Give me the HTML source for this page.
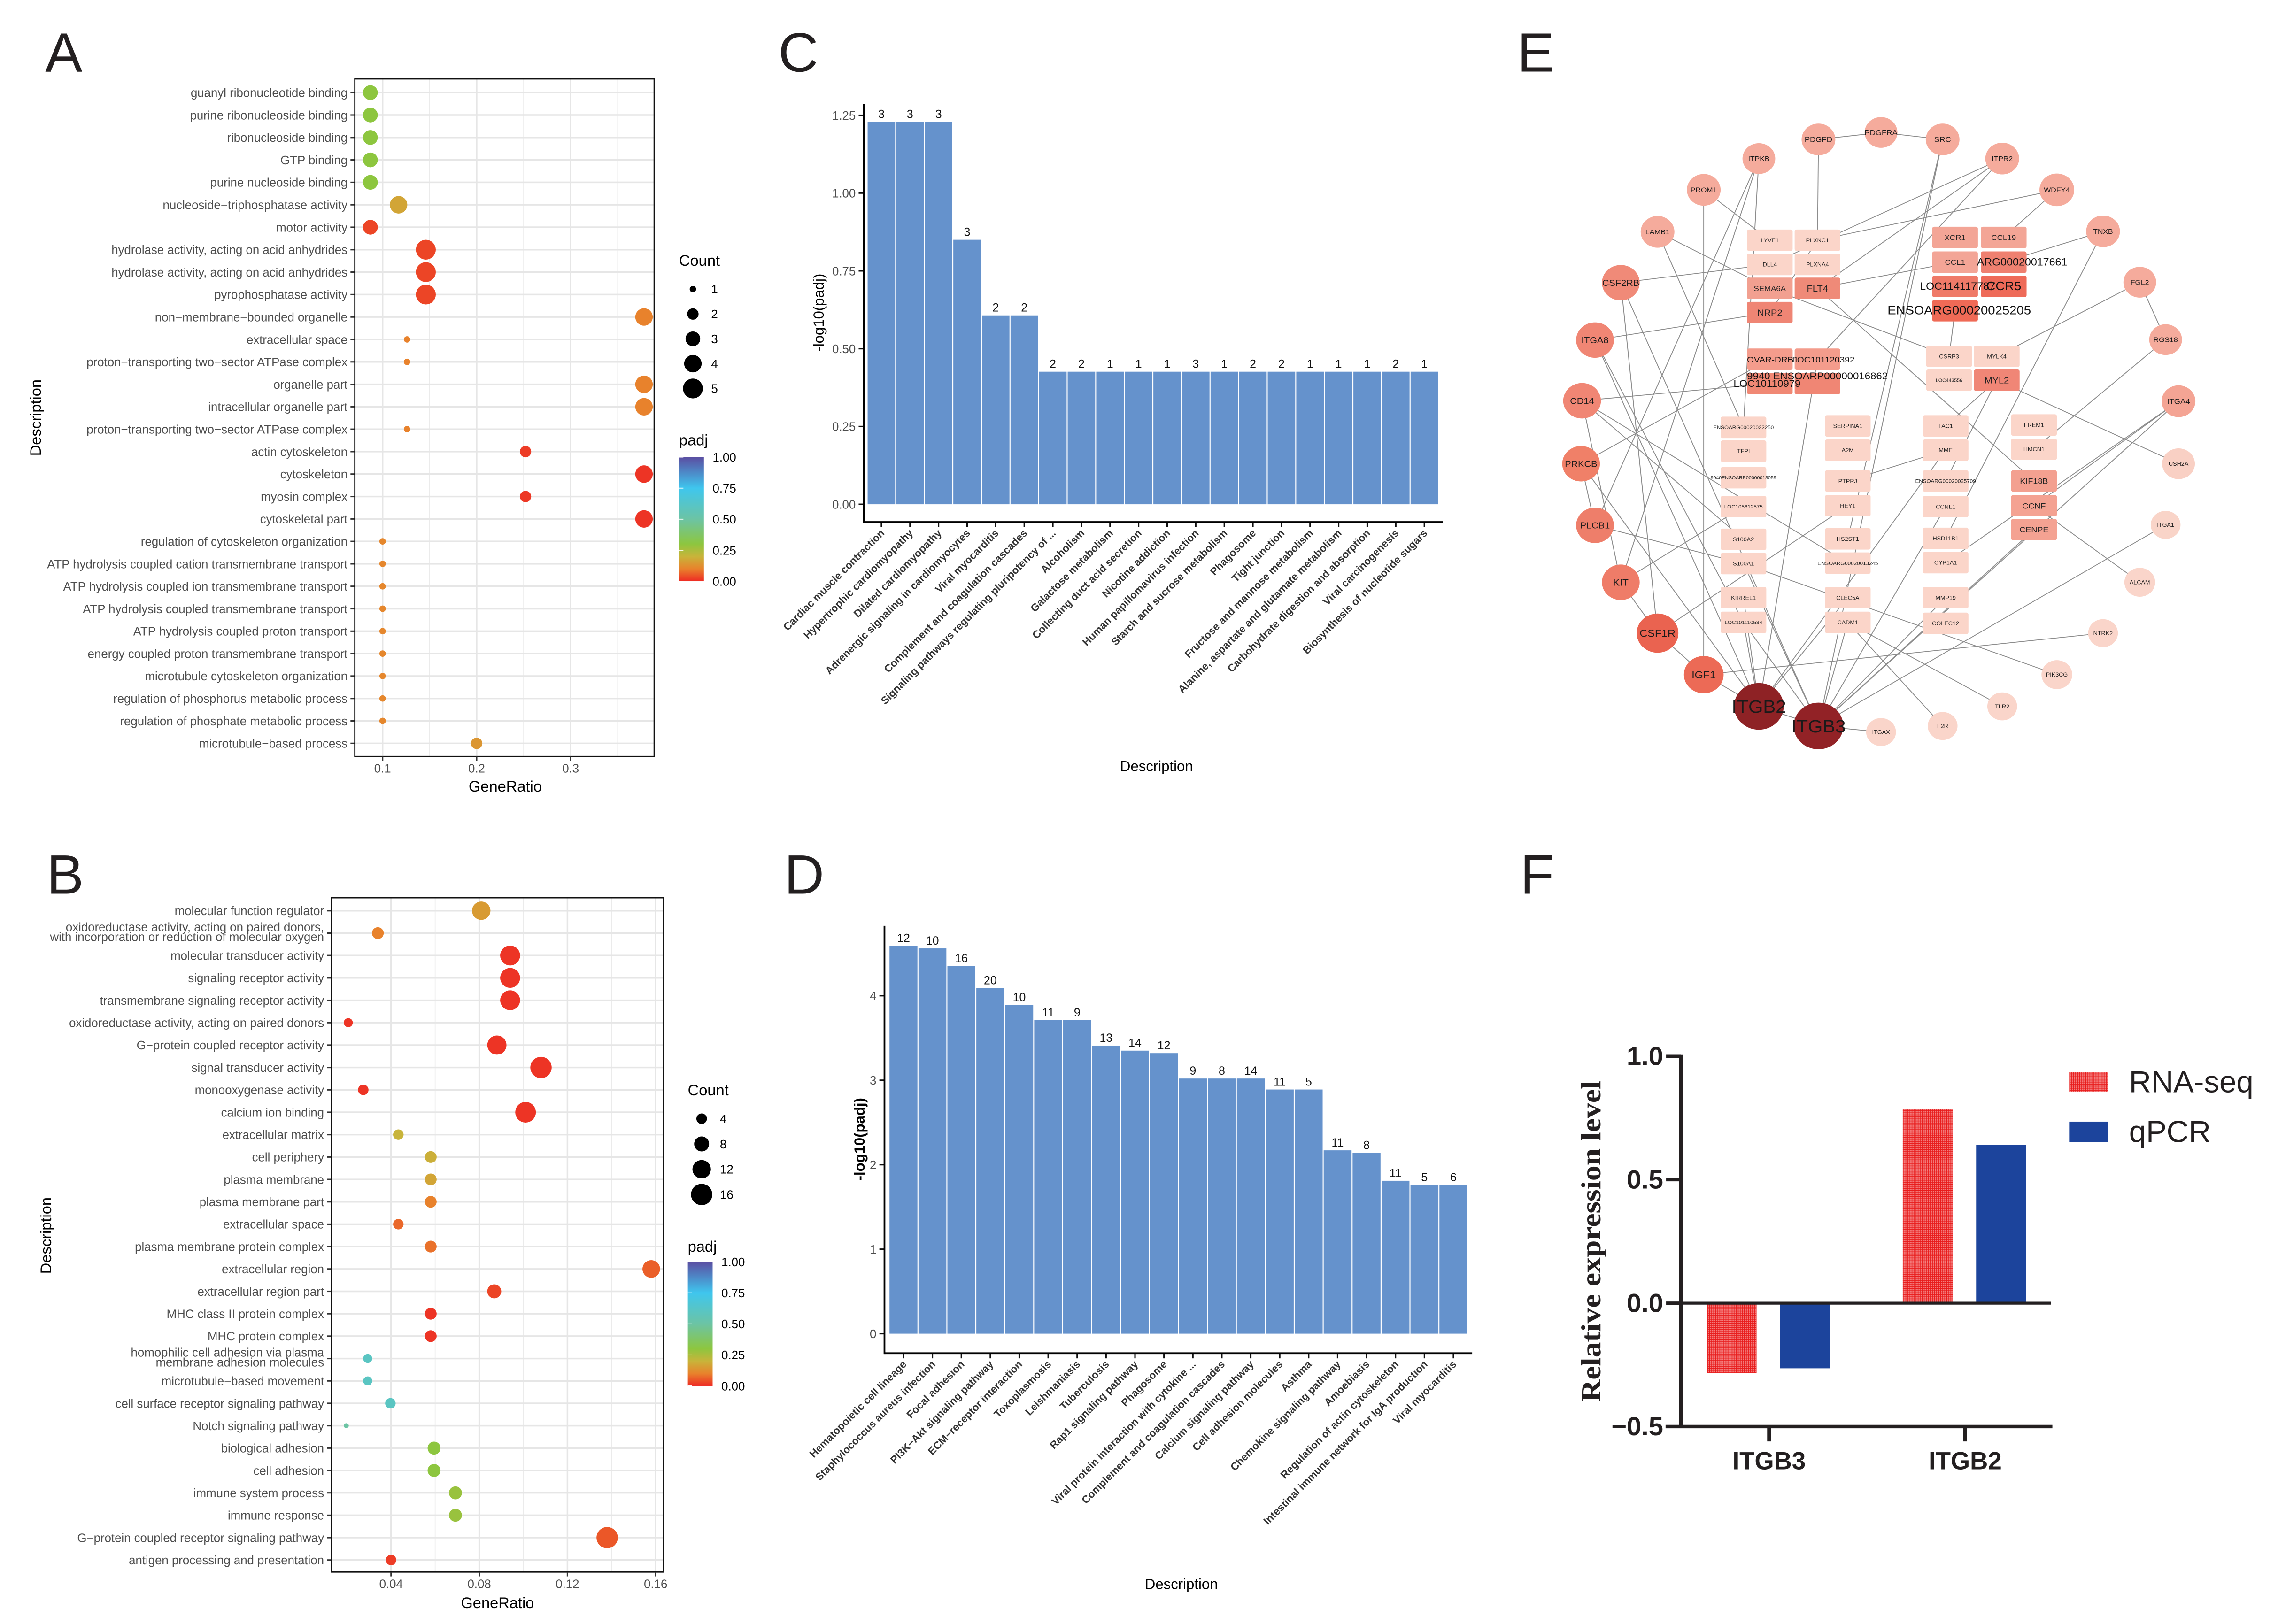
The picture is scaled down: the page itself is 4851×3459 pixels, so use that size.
<!DOCTYPE html>
<html><head><meta charset="utf-8"><title>Enrichment figure</title>
<style>
html,body{margin:0;padding:0;background:#fff;}
svg{display:block;font-family:"Liberation Sans",Arial,sans-serif;}
</style></head>
<body>
<svg id="fig" xmlns="http://www.w3.org/2000/svg" width="4851" height="3459" viewBox="0 0 1560 1112" preserveAspectRatio="none">
<defs>
<linearGradient id="padjGrad" x1="0" y1="1" x2="0" y2="0">
<stop offset="0" stop-color="#ee2b24"/><stop offset="0.1" stop-color="#e8822c"/><stop offset="0.2" stop-color="#c8b43a"/><stop offset="0.3" stop-color="#8dc63f"/><stop offset="0.5" stop-color="#6cc4a4"/><stop offset="0.75" stop-color="#3fc6ee"/><stop offset="1" stop-color="#5b4ea2"/>
</linearGradient>
<pattern id="hatch" width="1.4" height="1.4" patternUnits="userSpaceOnUse"><rect width="1.4" height="1.4" fill="#f48080"/><path d="M0 0.35H1.4M0.35 0V1.4" stroke="#e81c1c" stroke-width="0.5"/></pattern>
</defs>
<rect x="0" y="0" width="1560" height="1112" fill="#fff"/>
<g font-size="38" fill="#231f20">
<text x="31" y="49">A</text>
<text x="533" y="49">C</text>
<text x="1039" y="49">E</text>
<text x="32" y="612">B</text>
<text x="537" y="612">D</text>
<text x="1041" y="612">F</text>
</g>
<g id="pA"></g>
<g id="pB"></g>
<g id="pC"></g>
<g id="pD"></g>
<g id="pE" transform="translate(1029,48.2) scale(0.3401,0.3195)"></g>
<g id="pF"></g>
</svg>
<script>
// ---------- Panel A data ----------
const descA = ["guanyl ribonucleotide binding","purine ribonucleoside binding","ribonucleoside binding","GTP binding","purine nucleoside binding","nucleoside\u2212triphosphatase activity","motor activity","hydrolase activity, acting on acid anhydrides","hydrolase activity, acting on acid anhydrides","pyrophosphatase activity","non\u2212membrane\u2212bounded organelle","extracellular space","proton\u2212transporting two\u2212sector ATPase complex","organelle part","intracellular organelle part","proton\u2212transporting two\u2212sector ATPase complex","actin cytoskeleton","cytoskeleton","myosin complex","cytoskeletal part","regulation of cytoskeleton organization","ATP hydrolysis coupled cation transmembrane transport","ATP hydrolysis coupled ion transmembrane transport","ATP hydrolysis coupled transmembrane transport","ATP hydrolysis coupled proton transport","energy coupled proton transmembrane transport","microtubule cytoskeleton organization","regulation of phosphorus metabolic process","regulation of phosphate metabolic process","microtubule\u2212based process"];
const ratioA = [0.087,0.087,0.087,0.087,0.087,0.117,0.087,0.146,0.146,0.146,0.378,0.126,0.126,0.378,0.378,0.126,0.252,0.378,0.252,0.378,0.1,0.1,0.1,0.1,0.1,0.1,0.1,0.1,0.1,0.2];
const countA = [3,3,3,3,3,4,3,5,5,5,4,1,1,4,4,1,2,4,2,4,1,1,1,1,1,1,1,1,1,2];
const padjA = [0.3,0.3,0.3,0.3,0.3,0.17,0.03,0.03,0.03,0.03,0.1,0.1,0.1,0.1,0.1,0.1,0.02,0.01,0.015,0.01,0.11,0.11,0.11,0.11,0.11,0.11,0.11,0.11,0.11,0.14];
const ticksA = [0.1,0.2,0.3];
const legCountA = [1,2,3,4,5];
// ---------- Panel B data ----------
const descB = ["molecular function regulator","oxidoreductase activity, acting on paired donors,\nwith incorporation or reduction of molecular oxygen","molecular transducer activity","signaling receptor activity","transmembrane signaling receptor activity","oxidoreductase activity, acting on paired donors","G\u2212protein coupled receptor activity","signal transducer activity","monooxygenase activity","calcium ion binding","extracellular matrix","cell periphery","plasma membrane","plasma membrane part","extracellular space","plasma membrane protein complex","extracellular region","extracellular region part","MHC class II protein complex","MHC protein complex","homophilic cell adhesion via plasma\nmembrane adhesion molecules","microtubule\u2212based movement","cell surface receptor signaling pathway","Notch signaling pathway","biological adhesion","cell adhesion","immune system process","immune response","G\u2212protein coupled receptor signaling pathway","antigen processing and presentation"];
const ratioB = [0.0809,0.034,0.094,0.094,0.094,0.0206,0.088,0.108,0.0274,0.101,0.0433,0.058,0.058,0.058,0.0433,0.058,0.158,0.0868,0.058,0.058,0.0294,0.0294,0.0397,0.0197,0.0595,0.0595,0.0692,0.0692,0.138,0.04];
const countB = [12,5,14,14,14,3,13,16,4,15,4,5,5,5,4,5,11,7,5,5,3,3,4,1,6,6,6,6,16,4];
const padjB = [0.15,0.1,0.01,0.01,0.01,0.01,0.01,0.01,0.01,0.01,0.2,0.19,0.17,0.1,0.07,0.08,0.06,0.03,0.01,0.01,0.6,0.6,0.6,0.5,0.3,0.3,0.28,0.28,0.05,0.02];
const ticksB = [0.04,0.08,0.12,0.16];
const legCountB = [4,8,12,16];
// ---------- Panel C data ----------
const catC = ["Cardiac muscle contraction","Hypertrophic cardiomyopathy","Dilated cardiomyopathy","Adrenergic signaling in cardiomyocytes","Viral myocarditis","Complement and coagulation cascades","Signaling pathways regulating pluripotency of ...","Alcoholism","Galactose metabolism","Collecting duct acid secretion","Nicotine addiction","Human papillomavirus infection","Starch and sucrose metabolism","Phagosome","Tight junction","Fructose and mannose metabolism","Alanine, aspartate and glutamate metabolism","Carbohydrate digestion and absorption","Viral carcinogenesis","Biosynthesis of nucleotide sugars"];
const valC = [1.229,1.229,1.229,0.85,0.607,0.607,0.426,0.426,0.426,0.426,0.426,0.426,0.426,0.426,0.426,0.426,0.426,0.426,0.426,0.426];
const cntC = [3,3,3,3,2,2,2,2,1,1,1,3,1,2,2,1,1,1,2,1];
const ticksC = [0,0.25,0.5,0.75,1.0,1.25];
// ---------- Panel D data ----------
const catD = ["Hematopoietic cell lineage","Staphylococcus aureus infection","Focal adhesion","PI3K\u2212Akt signaling pathway","ECM\u2212receptor interaction","Toxoplasmosis","Leishmaniasis","Tuberculosis","Rap1 signaling pathway","Phagosome","Viral protein interaction with cytokine ...","Complement and coagulation cascades","Calcium signaling pathway","Cell adhesion molecules","Asthma","Chemokine signaling pathway","Amoebiasis","Regulation of actin cytoskeleton","Intestinal immune network for IgA production","Viral myocarditis"];
const valD = [4.59,4.56,4.35,4.09,3.89,3.71,3.71,3.41,3.35,3.32,3.02,3.02,3.02,2.89,2.89,2.17,2.14,1.81,1.76,1.76];
const cntD = [12,10,16,20,10,11,9,13,14,12,9,8,14,11,5,11,8,11,5,6];
const ticksD = [0,1,2,3,4];
// ---------- Panel F data ----------
const genesF = ["ITGB3","ITGB2"];
const rnaF = [-0.284,0.785];
const qpcrF = [-0.264,0.642];
const ticksF = [-0.5,0.0,0.5,1.0];

const NS='http://www.w3.org/2000/svg';
function mk(parent, tag, attrs, text){
  const e=document.createElementNS(NS,tag);
  for(const k in attrs) e.setAttribute(k,attrs[k]);
  if(text!=null) e.textContent=text;
  parent.appendChild(e);
  return e;
}
const stops=[[0,[238,43,36]],[0.1,[232,130,44]],[0.2,[200,180,58]],[0.3,[141,198,63]],[0.5,[108,196,164]],[0.75,[63,198,238]],[1,[91,78,162]]];
function padjColor(p){
  for(let i=1;i<stops.length;i++){
    if(p<=stops[i][0]){const a=stops[i-1],b=stops[i];const t=(p-a[0])/(b[0]-a[0]);
      const c=a[1].map((v,j)=>Math.round(v+(b[1][j]-v)*t));return 'rgb('+c.join(',')+')';}
  }
  return 'rgb(91,78,162)';
}

function dotPlot(g, o){
  const n=o.desc.length;
  const yS=i=>o.yTop+i*(o.yBot-o.yTop)/(n-1);
  const xS=v=>o.x0+v*o.xs;
  let el;
  for(const m of o.minor){
    el=mk(g,'line',{x1:xS(m),x2:xS(m),y1:o.bT,y2:o.bB,stroke:'#ebebeb','stroke-width':0.55});
    
    
  }
  for(const t of o.ticks){
    el=mk(g,'line',{x1:xS(t),x2:xS(t),y1:o.bT,y2:o.bB,stroke:'#e6e6e6','stroke-width':1.1});
    
    
  }
  for(let i=0;i<n;i++){
    el=mk(g,'line',{x1:o.bL,x2:o.bR,y1:yS(i),y2:yS(i),stroke:'#e6e6e6','stroke-width':1.1});
    
    
  }
  for(let i=0;i<n;i++){
    const lines=o.desc[i].split('\n');
    el=mk(g,'text',{x:o.bL-5,y:yS(i)+3,'text-anchor':'end','font-size':8.3,fill:'#4d4d4d'});
    
    
    if(lines.length===1){el.textContent=lines[0];}
    else{
      el.setAttribute('y',yS(i)-0.5);
      const t1=mk(el,'tspan',{x:o.bL-5,dy:-0.8},lines[0]);
      
      
      const t2=mk(el,'tspan',{x:o.bL-5,dy:6.8},lines[1]);
      
      
    }
    el=mk(g,'line',{x1:o.bL-3,x2:o.bL,y1:yS(i),y2:yS(i),stroke:'#333','stroke-width':1});
    
    
  }
  for(let i=0;i<n;i++){
    el=mk(g,'circle',{cx:xS(o.ratio[i]),cy:yS(i),r:o.rf(o.count[i]),fill:padjColor(o.padj[i])});
    
    
  }
  el=mk(g,'rect',{x:o.bL,y:o.bT,width:o.bR-o.bL,height:o.bB-o.bT,fill:'none',stroke:'#111','stroke-width':0.9});
  
  
  for(const t of o.ticks){
    el=mk(g,'line',{x1:xS(t),x2:xS(t),y1:o.bB,y2:o.bB+3,stroke:'#333','stroke-width':1});
    
    
    el=mk(g,'text',{x:xS(t),y:o.bB+11,'text-anchor':'middle','font-size':8.3,fill:'#4d4d4d'},String(t));
    
    
  }
  el=mk(g,'text',{x:o.xtx,y:o.xty,'text-anchor':'middle','font-size':10.5,fill:'#000'},'GeneRatio');
  
  
  el=mk(g,'text',{x:0,y:0,'text-anchor':'middle','font-size':10.5,fill:'#000',transform:'translate('+o.ytx+','+o.yty+') rotate(-90)'},'Description');
  
  
  el=mk(g,'text',{x:o.lx,y:o.lcY,'font-size':10.5,fill:'#000'},'Count');
  
  
  o.legC.forEach((c,k)=>{
    const yy=o.lc0+k*o.lcd;
    let e=mk(g,'circle',{cx:o.lx+9.5,cy:yy,r:o.rf(c),fill:'#000'});
    
    
    e=mk(g,'text',{x:o.lx+22,y:yy+3,'font-size':8.3,fill:'#000'},String(c));
    
    
  });
  el=mk(g,'text',{x:o.lx,y:o.pY,'font-size':10.5,fill:'#000'},'padj');
  
  
  el=mk(g,'rect',{x:o.lx,y:o.cbT,width:17,height:o.cbB-o.cbT,fill:'url(#padjGrad)'});
  
  
  ['1.00','0.75','0.50','0.25','0.00'].forEach((s,k)=>{
    const yy=o.cbT+k*(o.cbB-o.cbT)/4;
    let e=mk(g,'text',{x:o.lx+23,y:yy+3,'font-size':8.3,fill:'#000'},s);
    
    
    e=mk(g,'line',{x1:o.lx,x2:o.lx+3,y1:yy,y2:yy,stroke:'#fff','stroke-width':0.6});
    
    
  });
}
dotPlot(document.getElementById('pA'),{desc:descA,ratio:ratioA,count:countA,padj:padjA,ticks:ticksA,minor:[0.15,0.25,0.35],
  yTop:63.4,yBot:509,x0:197.6,xs:644,bL:243,bR:448,bT:54,bB:518,
  rf:c=>Math.sqrt(2.2*2.2+(c-1)/4*(6.8*6.8-2.2*2.2)),
  xtx:346,xty:542,ytx:28,yty:286,lx:465,lcY:182,lc0:198,lcd:17,legC:legCountA,pY:305,cbT:313,cbB:398});
dotPlot(document.getElementById('pB'),{desc:descB,ratio:ratioB,count:countB,padj:padjB,ticks:ticksB,minor:[0.02,0.06,0.10,0.14],
  yTop:623.6,yBot:1068.2,x0:207.4,xs:1510,bL:226.9,bR:454.5,bT:614.7,bB:1076.4,
  rf:c=>Math.sqrt(1.7*1.7+(c-1)/15*(7.3*7.3-1.7*1.7)),
  xtx:340.7,xty:1101,ytx:35,yty:846,lx:471,lcY:750,lc0:766,lcd:17.3,legC:legCountB,pY:857,cbT:864,cbB:949});

function barChart(g,o){
  const n=o.cat.length, bw=(o.xR-o.xL)/n;
  const yS=v=>o.y0-v*o.ys;
  let el;
  for(let i=0;i<n;i++){
    const x=o.xL+i*bw;
    el=mk(g,'rect',{x:x+0.35,y:yS(o.val[i]),width:bw-0.7,height:yS(0)-yS(o.val[i]),fill:'#6592cc'});
    
    
    el=mk(g,'text',{x:x+bw/2,y:yS(o.val[i])-2.6,'text-anchor':'middle','font-size':8,fill:'#111'},String(o.cnt[i]));
    
    
    el=mk(g,'line',{x1:x+bw/2,x2:x+bw/2,y1:o.axY,y2:o.axY+3.5,stroke:'#111','stroke-width':1});
    
    
    el=mk(g,'text',{x:0,y:0,'text-anchor':'end','font-size':7.2,fill:'#333','font-weight':'bold',transform:'translate('+(x+bw/2+2.5)+','+(o.axY+8)+') rotate(-45)'},o.cat[i]);
    
    
  }
  for(const t of o.ticks){
    el=mk(g,'line',{x1:o.axX-3.5,x2:o.axX,y1:yS(t),y2:yS(t),stroke:'#111','stroke-width':1});
    
    
    el=mk(g,'text',{x:o.axX-5.5,y:yS(t)+3,'text-anchor':'end','font-size':8.3,fill:'#4d4d4d'},o.fmt(t));
    
    
  }
  el=mk(g,'line',{x1:o.axX,x2:o.axX,y1:o.axTop,y2:o.axY+0.6,stroke:'#000','stroke-width':1.2});
  
  
  el=mk(g,'line',{x1:o.axX,x2:o.axRight,y1:o.axY,y2:o.axY,stroke:'#000','stroke-width':1.2});
  
  
  el=mk(g,'text',{x:o.xtx,y:o.xty,'text-anchor':'middle','font-size':10,fill:'#000'},'Description');
  
  
  el=mk(g,'text',{x:0,y:0,'text-anchor':'middle','font-size':10,fill:'#000','font-weight':o.yBold?'bold':'normal',transform:'translate('+o.ytx+','+o.yty+') rotate(-90)'},'-log10(padj)');
  
  
}
barChart(document.getElementById('pC'),{cat:catC,val:valC,cnt:cntC,ticks:ticksC,fmt:t=>t.toFixed(2),
  xL:593.8,xR:985.2,y0:345.3,ys:213.1,axX:591.5,axY:357.5,axTop:71.2,axRight:988,xtx:792,xty:528,ytx:564,yty:214,yBold:false});
barChart(document.getElementById('pD'),{cat:catD,val:valD,cnt:cntD,ticks:ticksD,fmt:t=>String(t),
  xL:608.8,xR:1005.2,y0:913.2,ys:57.85,axX:605.7,axY:926.6,axTop:633.9,axRight:1008.2,xtx:809,xty:1088,ytx:592,yty:780,yBold:true});

const circNodes=[
["PDGFRA",762,133,33,"#f5ab9c",16],["PDGFD",636,148,34,"#f5ab9c",16],["SRC",886,148,34,"#f5ab9c",16],["ITPKB",516,189,33,"#f5ab9c",15],
["ITPR2",1006,189,34,"#f5ab9c",15],["PROM1",405,256,34,"#f5ab9c",15],["WDFY4",1116,256,35,"#f5ab9c",15],["LAMB1",312,346,34,"#f5ab9c",15],
["TNXB",1209,345,34,"#f5ab9c",15],["CSF2RB",238,455,38,"#f08a78",19],["FGL2",1283,454,33,"#f5ab9c",15],["ITGA8",186,578,38,"#f08674",19],
["RGS18",1335,577,33,"#f5ab9c",15],["CD14",160,708,38,"#f08674",19],["ITGA4",1361,709,34,"#f4a494",16],["USH2A",1361,843,33,"#f9d0c4",12],
["PRKCB",158,843,38,"#f08068",19],["PLCB1",186,975,38,"#ee7e6a",19],["ITGA1",1335,974,30,"#f9d4c8",12],["KIT",238,1097,38,"#ef7c68",20],
["ALCAM",1283,1097,31,"#fad5ca",12],["CSF1R",312,1206,42,"#ea6350",22],["NTRK2",1209,1206,30,"#fad5ca",12],["IGF1",405,1295,40,"#ec6a56",22],
["PIK3CG",1116,1295,31,"#fad5ca",12],["ITGB2",516,1363,50,"#8e2225",38],["TLR2",1006,1363,30,"#fad5ca",12],["ITGB3",636,1405,50,"#922226",38],
["F2R",886,1405,30,"#fad5ca",12],["ITGAX",762,1418,30,"#fad5ca",12]];
const rectNodes=[
["LYVE1",538,364,"#fbd5c9","LYVE1",12],["PLXNC1",634,364,"#fbd5c9","PLXNC1",12],["DLL4",538,416,"#fbd5c9","DLL4",12],["PLXNA4",634,416,"#fbd5c9","PLXNA4",12],
["SEMA6A",538,467,"#f2a090","SEMA6A",16],["FLT4",634,467,"#ef8a78","FLT4",19],["NRP2",538,519,"#ef8574","NRP2",19],
["XCR1",911,358,"#f3a596","XCR1",16],["CCL19",1009,358,"#f3a596","CCL19",16],["CCL1",911,411,"#f3a596","CCL1",16],["ARG17661",1009,411,"#ef8070","",16],
["LOC114117787",911,463,"#ef7a68","",19],["CCR5",1009,463,"#ee6a58","",22],["ENSOARG00020025205",911,515,"#ef6a56","",22],
["OVAR-DRB1",538,619,"#f49c8c","",16],["LOC101120392",634,619,"#f49c8c","",16],["LOC10110979",538,671,"#f08874","",16],["ENSOARP16862",634,671,"#f08674","",16],
["CSRP3",899,613,"#fbd5c9","CSRP3",12],["MYLK4",995,613,"#fbd5c9","MYLK4",12],["LOC443556",899,664,"#fbd5c9","LOC443556",10],["MYL2",995,664,"#f08676","MYL2",19],
["ENSOARG00020022250",485,765,"#fbd5c9","ENSOARG00020022250",11],["TFPI",485,816,"#fbd5c9","TFPI",12],["ENSOARP13059",485,873,"#fbd5c9","9940ENSOARP00000013059",10],
["LOC105612575",485,935,"#fbd5c9","LOC105612575",11],["S100A2",485,1005,"#fbd5c9","S100A2",12],["S100A1",485,1057,"#fbd5c9","S100A1",12],
["KIRREL1",485,1130,"#fbd5c9","KIRREL1",12],["LOC101110534",485,1183,"#fbd5c9","LOC101110534",11],
["SERPINA1",695,762,"#fbd5c9","SERPINA1",12],["A2M",695,814,"#fbd5c9","A2M",12],["PTPRJ",695,880,"#fbd5c9","PTPRJ",12],["HEY1",695,933,"#fbd5c9","HEY1",12],
["HS2ST1",695,1004,"#fbd5c9","HS2ST1",12],["ENSOARG00020013245",695,1056,"#fbd5c9","ENSOARG00020013245",11],["CLEC5A",695,1130,"#fbd5c9","CLEC5A",12],["CADM1",695,1183,"#fbd5c9","CADM1",12],
["TAC1",892,762,"#fbd5c9","TAC1",12],["MME",892,814,"#fbd5c9","MME",12],["ENSOARG00020025709",892,880,"#fbd5c9","ENSOARG00020025709",11],["CCNL1",892,935,"#fbd5c9","CCNL1",12],
["HSD11B1",892,1003,"#fbd5c9","HSD11B1",12],["CYP1A1",892,1055,"#fbd5c9","CYP1A1",12],["MMP19",892,1130,"#fbd5c9","MMP19",12],["COLEC12",892,1185,"#fbd5c9","COLEC12",12],
["FREM1",1070,760,"#fbd5c9","FREM1",12],["HMCN1",1070,812,"#fbd5c9","HMCN1",12],["KIF18B",1070,880,"#f3a090","KIF18B",17],["CCNF",1070,933,"#f4a292","CCNF",17],["CENPE",1070,984,"#f4a292","CENPE",17]];
const edgesE=[["PDGFD","PDGFRA"],["PDGFRA","SRC"],["PDGFD","PLXNC1"],["ITPKB","ENSOARG00020022250"],["ITPKB","KIT"],["ITPKB","PLCB1"],
["PROM1","LYVE1"],["PROM1","IGF1"],["SRC","HS2ST1"],["ITPR2","FLT4"],["ITPR2","LOC101120392"],["ITPR2","DLL4"],["WDFY4","PLXNC1"],["WDFY4","CCL19"],
["TNXB","ARG17661"],["TNXB","HSD11B1"],["FGL2","RGS18"],["FGL2","MYLK4"],["RGS18","HMCN1"],["ITGA4","CCNF"],["ITGA4","CYP1A1"],["ITGA4","ITGB3"],
["USH2A","MYL2"],["ITGA1","ITGB3"],["ALCAM","CCNF"],["NTRK2","IGF1"],["PIK3CG","S100A1"],["TLR2","CADM1"],["F2R","CADM1"],["LAMB1","ENSOARG00020022250"],
["LAMB1","SEMA6A"],["CSF2RB","DLL4"],["CSF2RB","CSF1R"],["CSF2RB","ITGB3"],["ITGA8","NRP2"],["ITGA8","LOC101110534"],["ITGA8","ITGB2"],
["CD14","ENSOARG00020013245"],["CD14","S100A2"],["CD14","KIT"],["PRKCB","OVAR-DRB1"],["PRKCB","ITGB2"],["PRKCB","PLCB1"],["PLCB1","S100A1"],
["KIT","CSF1R"],["CSF1R","IGF1"],["CSF1R","HEY1"],["IGF1","ITGB2"],["ITGB2","ITGB3"],["ITGB2","KIRREL1"],["ITGB2","CLEC5A"],["ITGB2","LOC101110534"],
["ITGB2","MME"],["ITGB3","S100A1"],["ITGB3","CADM1"],["ITGB3","MMP19"],["ITGB3","ITGAX"],["ITGB3","CENPE"],["ITGB3","CCNL1"],["FLT4","KIF18B"],
["SEMA6A","CSRP3"],["TAC1","MYL2"],["PTPRJ","MME"],["ENSOARG00020025709","MYL2"],["CCL1","FLT4"],["ENSOARG00020025205","CSRP3"],["PLXNC1","NRP2"],
["ITGB2","LOC101120392"],["CD14","LOC10110979"],["SRC","ITGB3"],["ITGB3","LOC101110534"],["KIT","LOC105612575"]];
(function(){
  const g=document.getElementById('pE');
  const pos={};
  circNodes.forEach(n=>pos[n[0]]=[n[1],n[2]]);
  rectNodes.forEach(n=>pos[n[0]]=[n[1],n[2]]);
  let el;
  edgesE.forEach(e=>{
    const a=pos[e[0]],b=pos[e[1]];
    el=mk(g,'line',{x1:a[0],y1:a[1],x2:b[0],y2:b[1],stroke:'#8c8c8c','stroke-width':1.8});
    
    
  });
  rectNodes.forEach(n=>{
    el=mk(g,'rect',{x:n[1]-46,y:n[2]-23,width:92,height:46,rx:4,fill:n[3]});
    
    
    if(n[4]){
      el=mk(g,'text',{x:n[1],y:n[2]+n[5]*0.36,'text-anchor':'middle','font-size':n[5],fill:'#222'},n[4]);
      
      
    }
  });
  const extra=[["ARG00020017661",955,418,22,'start'],["LOC114117787",840,470,22,'start'],["CCR5",1009,471,26,'middle'],
    ["ENSOARG00020025205",775,523,26,'start'],["OVAR-DRB1",492,626,18,'start'],["LOC101120392",583,626,18,'start'],
    ["9940 ENSOARP00000016862",492,662,21,'start'],["LOC10110979",465,678,21,'start']];
  extra.forEach(t=>{
    el=mk(g,'text',{x:t[1],y:t[2],'font-size':t[3],'text-anchor':t[4],fill:'#111'},t[0]);
    
    
  });
  circNodes.forEach(n=>{
    el=mk(g,'circle',{cx:n[1],cy:n[2],r:n[3],fill:n[4]});
    
    
    el=mk(g,'text',{x:n[1],y:n[2]+n[5]*0.36,'text-anchor':'middle','font-size':n[5],fill:'#1a1a1a'},n[0]);
    
    
  });
})();

(function(){
  const g=document.getElementById('pF');
  const yS=v=>892.3-v*169;
  const cx=[1211.5,1345.8];
  const bw=34.2;
  const narrow='"Liberation Sans Narrow","Liberation Sans",sans-serif';
  let el;
  for(let i=0;i<genesF.length;i++){
    const r=rnaF[i], q=qpcrF[i];
    el=mk(g,'rect',{x:cx[i]-42.8,y:Math.min(yS(r),yS(0)),width:bw,height:Math.abs(yS(r)-yS(0)),fill:'url(#hatch)'});
    
    
    el=mk(g,'rect',{x:cx[i]+7.5,y:Math.min(yS(q),yS(0)),width:bw,height:Math.abs(yS(q)-yS(0)),fill:'#1c449c'});
    
    
    el=mk(g,'line',{x1:cx[i],x2:cx[i],y1:yS(-0.5),y2:987,stroke:'#231f20','stroke-width':2.6});
    
    
    el=mk(g,'text',{x:cx[i],y:1006,'text-anchor':'middle','font-size':17,'font-weight':'bold',fill:'#231f20','font-family':narrow},genesF[i]);
    
    
  }
  el=mk(g,'line',{x1:1151.2,x2:1151.2,y1:yS(1.0)-1,y2:yS(-0.5)+1,stroke:'#231f20','stroke-width':2.6});
  
  
  el=mk(g,'line',{x1:1151.2,x2:1404.5,y1:yS(0),y2:yS(0),stroke:'#231f20','stroke-width':2});
  
  
  el=mk(g,'line',{x1:1140.6,x2:1405.5,y1:yS(-0.5),y2:yS(-0.5),stroke:'#231f20','stroke-width':2.4});
  
  
  for(const t of ticksF){
    el=mk(g,'line',{x1:1141,x2:1151.2,y1:yS(t),y2:yS(t),stroke:'#231f20','stroke-width':2.2});
    
    
    el=mk(g,'text',{x:1139,y:yS(t)+6,'text-anchor':'end','font-size':18,'font-weight':'bold',fill:'#231f20','font-family':narrow},t.toFixed(1).replace('-','\u2212'));
    
    
  }
  el=mk(g,'text',{x:0,y:0,'text-anchor':'middle','font-size':19,'font-weight':'bold',fill:'#231f20','font-family':'"Liberation Serif",serif',textLength:220,lengthAdjust:'spacingAndGlyphs',transform:'translate(1096,850) rotate(-90)'},'Relative expression level');
  
  
  el=mk(g,'rect',{x:1417,y:734.2,width:26.4,height:13.2,fill:'url(#hatch)'});
  
  
  el=mk(g,'text',{x:1458,y:748,'font-size':21,fill:'#231f20','font-family':narrow},'RNA-seq');
  
  
  el=mk(g,'rect',{x:1417,y:768,width:26.4,height:14,fill:'#1c449c'});
  
  
  el=mk(g,'text',{x:1458,y:782,'font-size':21,fill:'#231f20','font-family':narrow},'qPCR');
  
  
})();
</script>
</body></html>
